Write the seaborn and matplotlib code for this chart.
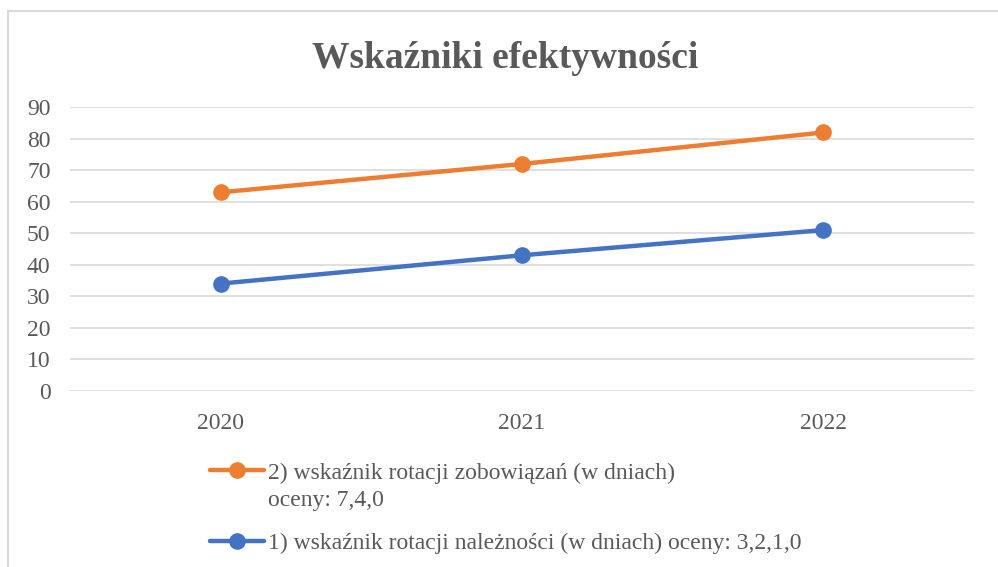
import numpy as np
import pandas as pd
import seaborn as sns
import matplotlib.pyplot as plt
from matplotlib.patches import Rectangle
from matplotlib.legend_handler import HandlerLine2D

years = ['2020', '2021', '2022']
zobowiazania = [63, 72, 82]
naleznosci = [34, 43, 51]
label_zob = '2) wskaźnik rotacji zobowiązań (w dniach)\noceny: 7,4,0'
label_nal = '1) wskaźnik rotacji należności (w dniach) oceny: 3,2,1,0'
title = 'Wskaźniki efektywności'

df = pd.DataFrame({
    'rok': years * 2,
    'wartosc': naleznosci + zobowiazania,
    'seria': [label_nal] * 3 + [label_zob] * 3,
})


# uchwyt legendy na wysokości pierwszej linii opisu (jak w Excelu)
class UpHandler(HandlerLine2D):
    def __init__(self, shift, **kw):
        super().__init__(**kw)
        self.shift = shift

    def create_artists(self, *args, **kwargs):
        arts = super().create_artists(*args, **kwargs)
        for a in arts:
            a.set_ydata(np.asarray(a.get_ydata()) + self.shift)
        return arts


sns.set_style('white')
plt.rcParams['font.family'] = ['Liberation Serif', 'DejaVu Serif']
grey = '#595959'

fig = plt.figure(figsize=(9.98, 5.67), dpi=100)
ax = fig.add_axes([0.0701, 0.311, 0.9059, 0.4998])

# ramka wykresu (wychodzi poza obrazek z prawej i od dołu)
fig.patches.append(Rectangle((8 / 998, -0.1), 1.2, 1 - 11 / 567 + 0.1,
                             transform=fig.transFigure, fill=False,
                             edgecolor='#D9D9D9', linewidth=1.5, zorder=0))

sns.lineplot(data=df, x='rok', y='wartosc', hue='seria',
             palette={label_nal: '#4472C4', label_zob: '#ED7D31'},
             hue_order=[label_nal, label_zob],
             marker='o', markersize=12, markeredgewidth=0, linewidth=3.2,
             sort=False, ax=ax)

ax.set_xlim(-0.5, 2.5)
ax.set_ylim(0, 90)
ax.set_yticks(range(0, 91, 10))
ax.yaxis.grid(True, color='#D9D9D9', linewidth=1.2)
ax.set_axisbelow(True)
for s in ax.spines.values():
    s.set_visible(False)
ax.tick_params(axis='both', length=0, labelsize=17, labelcolor=grey)
ax.tick_params(axis='x', pad=16)
ax.tick_params(axis='y', pad=14)
ax.set_xlabel('')
ax.set_ylabel('')

fig.text(0.506, 0.897, title, ha='center', va='center',
         fontsize=27, fontweight='bold', color=grey)

handles, labels = ax.get_legend_handles_labels()
handles, labels = handles[::-1], labels[::-1]
leg = ax.legend(handles, labels, loc='upper left',
                bbox_to_anchor=(0.1984, 0.205), bbox_transform=fig.transFigure,
                frameon=False, fontsize=17, labelcolor=grey, borderpad=0,
                handlelength=2.3, handletextpad=0.15, labelspacing=0.9,
                handler_map={handles[0]: UpHandler(12)})
for t in leg.get_texts():
    t.set_linespacing(1.4)

fig.savefig('out.png', dpi=100)
